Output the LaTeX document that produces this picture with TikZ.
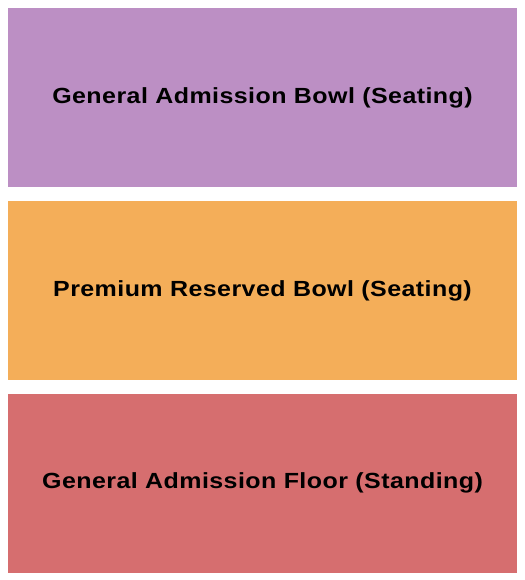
\documentclass[tikz,border=0pt]{standalone}
\usepackage{fontspec}
\newfontfamily\seatfont[LetterSpace=2, FakeStretch=1.14]{Liberation Sans}
\usetikzlibrary{positioning}

\definecolor{bowlpurple}{RGB}{188,143,196}
\definecolor{premorange}{RGB}{244,174,89}
\definecolor{floorred}{RGB}{214,110,111}

\begin{document}
\begin{tikzpicture}[
    x=1bp,
    y=-1bp,
    section/.style={rectangle, inner sep=0pt, minimum width=509bp, minimum height=179bp,
        font=\seatfont\bfseries\fontsize{22}{26}\selectfont},
]
    \useasboundingbox (0,0) rectangle (525,580);

    \node[section, fill = bowlpurple]                      (GAB) at (262.5, 97.5) {General Admission Bowl (Seating)};
    \node[section, fill = premorange, below =14bp of GAB]  (PRB) {Premium Reserved Bowl (Seating)};
    \node[section, fill = floorred,   below =13bp of PRB]  (GAF) {General Admission Floor (Standing)};
\end{tikzpicture}
\end{document}
